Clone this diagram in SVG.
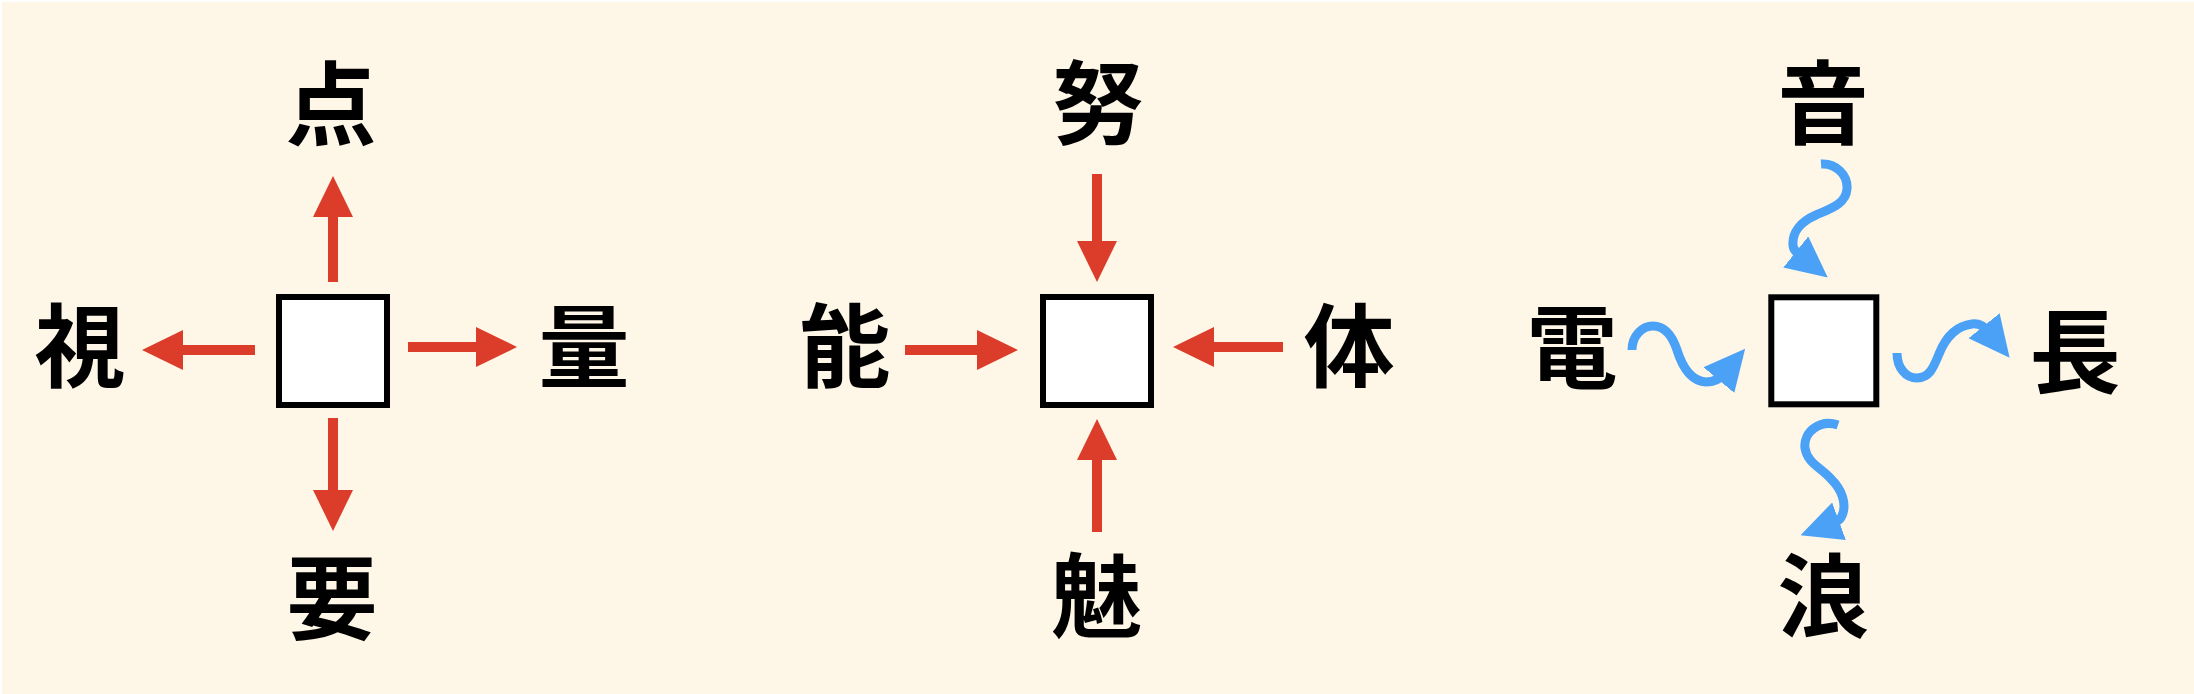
<svg xmlns="http://www.w3.org/2000/svg" width="2194" height="694" viewBox="0 0 2194 694">
<style>
.bg{fill:#FEF6E7}
.box{fill:#FFFFFF;stroke:#000000;stroke-width:6}
.lbl{font-family:"Noto Sans CJK JP","Noto Sans CJK SC",sans-serif;font-weight:700;font-size:91px;fill:#000000;text-anchor:middle}
.red{stroke:#DB3D2A;stroke-width:10;fill:none;marker-end:url(#redHead)}
.blue{stroke:#4AA1F6;stroke-width:9;fill:none;marker-end:url(#blueHead)}
</style>
<defs>
<marker id="redHead" viewBox="0 0 41 40" markerWidth="41" markerHeight="40" refX="1" refY="20" orient="auto" markerUnits="userSpaceOnUse">
<path d="M0,0 L41,20 L0,40 Z" fill="#DB3D2A"/>
</marker>
<marker id="blueHead" viewBox="0 0 41 40" markerWidth="41" markerHeight="40" refX="8" refY="20" orient="auto" markerUnits="userSpaceOnUse">
<path d="M0,0 L41,20 L0,40 Z" fill="#4AA1F6"/>
</marker>
</defs>
<rect x="0" y="0" width="2194" height="694" fill="#FFFFFF"/>
<rect class="bg" x="2" y="2" width="2192" height="692"/>

<g id="connectors">
<line class="red" x1="333" y1="282" x2="333" y2="216"/>
<line class="red" x1="333" y1="418" x2="333" y2="491"/>
<line class="red" x1="255" y1="350" x2="182" y2="350"/>
<line class="red" x1="408" y1="347" x2="477" y2="347"/>
<line class="red" x1="1097" y1="174" x2="1097" y2="242"/>
<line class="red" x1="1097" y1="532" x2="1097" y2="459"/>
<line class="red" x1="905" y1="350" x2="978" y2="350"/>
<line class="red" x1="1283" y1="347" x2="1213" y2="347"/>
<path class="blue" d="M1821,164 C1836,163 1848,175 1847,189 C1846,204 1830,209 1816,215 C1800,222 1792,233 1793,245 C1793,250 1797,253 1802,257"/>
<path class="blue" d="M1632,350 C1632,336 1642,326 1653,326 C1666,326 1673,338 1677,350 C1682,366 1690,381 1706,382 C1712,382 1719,380 1724,374"/>
<path class="blue" d="M1897,353 C1897,368 1906,378 1917,378 C1930,378 1934,366 1939,354 C1945,339 1955,326 1972,324 C1980,323 1985,327 1989,332"/>
<path class="blue" d="M1838,425 C1820,419 1803,432 1805,448 C1807,463 1822,468 1832,480 C1842,490 1846,503 1843,513 C1841,520 1837,522 1831.5,524"/>
</g>

<g id="box1"><rect class="box" x="279" y="297" width="108" height="108"/></g>
<g id="box2"><rect class="box" x="1043" y="297" width="108" height="108"/></g>
<g id="box3"><rect class="box" x="1771.3" y="297.3" width="105" height="107"/></g>

<g id="n-ten"><text class="lbl" x="331" y="137.7">点</text></g>
<g id="n-shi"><text class="lbl" x="80" y="380.3">視</text></g>
<g id="n-ryo"><text class="lbl" x="584" y="380.7">量</text></g>
<g id="n-yo"><text class="lbl" x="332" y="631.7">要</text></g>

<g id="n-do"><text class="lbl" x="1098" y="137.2">努</text></g>
<g id="n-no"><text class="lbl" x="845" y="380.2">能</text></g>
<g id="n-tai"><text class="lbl" x="1349" y="380.2">体</text></g>
<g id="n-mi"><text class="lbl" x="1097" y="629.7">魅</text></g>

<g id="n-on"><text class="lbl" x="1823" y="137.2">音</text></g>
<g id="n-den"><text class="lbl" x="1572" y="380.7">電</text></g>
<g id="n-cho"><text class="lbl" x="2075" y="385.7">長</text></g>
<g id="n-ro"><text class="lbl" x="1823" y="629.7">浪</text></g>
</svg>
